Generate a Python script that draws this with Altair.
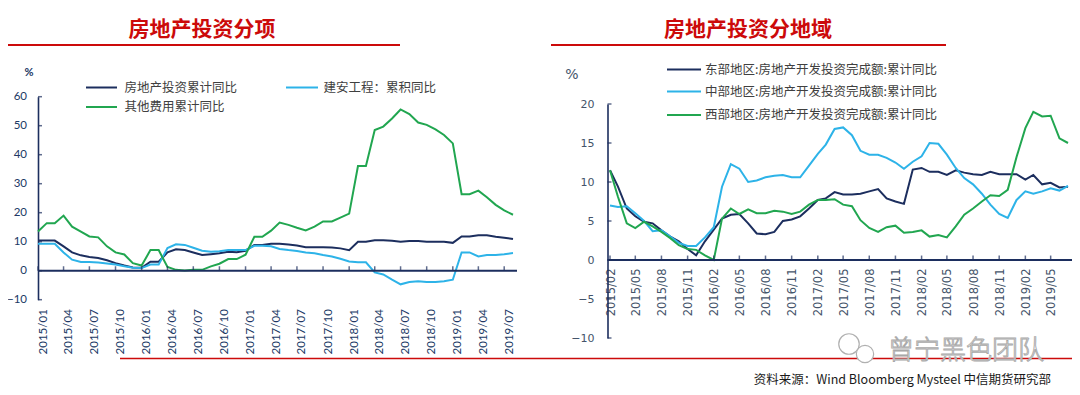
import altair as alt
import pandas as pd

# ---------------- left panel: 房地产投资分项 ----------------
left_title = "房地产投资分项"
left_names = ["房地产投资累计同比", "建安工程：累积同比", "其他费用累计同比"]
left_total = [10.4, 10.4, 10.4, 8.4, 6.3, 5.3, 4.7, 4.4, 3.6, 2.6,
              1.8, 1.1, 1.0, 3.1, 3.1, 6.3, 7.4, 7.1, 6.3, 5.4,
              5.7, 6.0, 6.5, 6.4, 6.9, 8.9, 8.9, 9.3, 9.3, 9.0,
              8.7, 8.1, 8.1, 8.1, 8.0, 7.7, 7.1, 10.0, 10.0, 10.5,
              10.5, 10.3, 10.0, 10.2, 10.2, 10.0, 10.0, 10.0, 9.6, 11.8,
              11.8, 12.2, 12.2, 11.7, 11.4, 10.9]
left_build = [9.3, 9.3, 9.3, 6.3, 3.8, 3.0, 3.0, 2.8, 2.5, 2.1,
              1.5, 1.0, 0.9, 2.1, 2.1, 7.8, 9.1, 8.9, 7.9, 6.9,
              6.5, 6.7, 7.1, 7.1, 7.1, 8.6, 8.6, 8.4, 7.5, 7.1,
              6.8, 6.3, 6.0, 5.4, 4.9, 4.1, 3.2, 2.9, 2.9, -0.6,
              -1.3, -3.1, -4.7, -3.9, -3.6, -3.9, -3.9, -3.6, -3.1, 6.3,
              6.3, 4.9, 5.4, 5.4, 5.7, 6.1]
left_other = [13.5, 16.4, 16.4, 19.0, 15.2, 13.5, 11.8, 11.5, 8.4, 6.3,
              5.6, 2.6, 1.8, 7.1, 7.1, 1.3, 0.3, 0.1, 0.3, 0.3,
              1.5, 2.4, 4.0, 4.0, 5.5, 11.7, 11.7, 13.8, 16.6, 15.8,
              14.8, 13.9, 15.2, 17.0, 17.0, 18.3, 19.7, 36.1, 36.1, 48.5,
              49.7, 52.5, 55.6, 54.0, 51.1, 50.3, 48.7, 46.8, 43.9, 26.4,
              26.4, 27.6, 25.3, 22.7, 20.8, 19.3]
left_xticks = ["2015/01", "2015/04", "2015/07", "2015/10", "2016/01", "2016/04",
               "2016/07", "2016/10", "2017/01", "2017/04", "2017/07", "2017/10",
               "2018/01", "2018/04", "2018/07", "2018/10", "2019/01", "2019/04",
               "2019/07"]
left_yticks = [60, 50, 40, 30, 20, 10, 0, -10]

# ---------------- right panel: 房地产投资分地域 ----------------
right_title = "房地产投资分地域"
right_names = ["东部地区:房地产开发投资完成额:累计同比",
               "中部地区:房地产开发投资完成额:累计同比",
               "西部地区:房地产开发投资完成额:累计同比"]
right_east = [11.5, 9.4, 6.6, 5.6, 4.9, 4.7, 3.8, 3.0, 2.4, 1.4,
              0.6, 2.4, 3.9, 5.3, 5.8, 5.9, 4.7, 3.4, 3.3, 3.6,
              5.0, 5.2, 5.6, 6.6, 7.7, 7.9, 8.7, 8.4, 8.4, 8.5,
              8.8, 9.1, 7.9, 7.5, 7.2, 11.6, 11.8, 11.3, 11.3, 10.9,
              11.5, 11.2, 11.0, 10.9, 11.3, 11.0, 11.0, 11.0, 10.3, 10.9,
              9.7, 9.9, 9.3, 9.4]
right_central = [7.0, 6.8, 6.9, 6.0, 5.0, 3.7, 3.8, 3.0, 2.2, 1.8,
                 1.8, 2.9, 4.2, 9.4, 12.3, 11.7, 10.0, 10.2, 10.6, 10.8,
                 10.9, 10.6, 10.6, 12.1, 13.6, 14.8, 16.8, 17.0, 16.0, 14.0,
                 13.5, 13.5, 13.1, 12.5, 11.7, 12.6, 13.3, 15.0, 14.9, 13.5,
                 11.8, 10.5, 9.7, 8.5, 7.1, 5.9, 5.4, 7.7, 8.8, 8.5,
                 8.8, 9.2, 8.9, 9.5]
right_west = [11.5, 8.1, 4.7, 4.1, 4.9, 4.3, 3.6, 2.8, 1.9, 1.4,
              1.3, 0.6, 0.0, 5.3, 6.6, 5.9, 6.5, 6.0, 6.0, 6.3,
              6.2, 5.9, 6.2, 7.1, 7.7, 7.7, 7.8, 7.1, 6.9, 5.1,
              4.1, 3.6, 4.2, 4.4, 3.5, 3.6, 3.8, 3.0, 3.2, 2.9,
              4.3, 5.8, 6.6, 7.5, 8.3, 8.2, 9.0, 13.2, 16.9, 19.0,
              18.4, 18.5, 15.6, 15.0]
right_xticks = ["2015/02", "2015/05", "2015/08", "2015/11", "2016/02", "2016/05",
                "2016/08", "2016/11", "2017/02", "2017/05", "2017/08", "2017/11",
                "2018/02", "2018/05", "2018/08", "2018/11", "2019/02", "2019/05"]
right_yticks = [20, 15, 10, 5, 0, -5, -10]

source_text = "资料来源：Wind Bloomberg Mysteel 中信期货研究部"
watermark_text = "曾宁黑色团队"

# ---------------- styles ----------------
NAVY = "#1c2e5e"
SKY = "#2db3e8"
GREEN = "#21a650"
RED = "#cc0a0a"
CJK = "Noto Sans CJK SC"
series_colors = [NAVY, SKY, GREEN]


def dt(label_or_ts):
    if isinstance(label_or_ts, str):
        y, m = label_or_ts.split("/")
        return alt.DateTime(year=int(y), month=int(m), date=1)
    return alt.DateTime(year=int(label_or_ts.year), month=int(label_or_ts.month), date=1)


def long_frame(start, names, series):
    dates = pd.date_range(start, periods=len(series[0]), freq="MS")
    rows = []
    for name, vals in zip(names, series):
        for d, v in zip(dates, vals):
            rows.append({"d": d, "v": v, "s": name})
    return pd.DataFrame(rows), dates


left_df, left_dates = long_frame("2015-01-01", left_names, [left_total, left_build, left_other])
right_df, right_dates = long_frame("2015-02-01", right_names, [right_east, right_central, right_west])


def panel(df, dates, names, xticks, yticks, xrange, yrange, ydomain,
          y_axis_x, x_axis_offset, x_label_pad, x_label_off, zero_end,
          lab_font, xlab_size, ylab_size, lab_color, ylab_pad):
    xsc = alt.Scale(domain=[dt(dates[0]), dt(dates[-1])], range=xrange)
    ysc = alt.Scale(domain=ydomain, range=yrange, nice=False, zero=False)
    lines = alt.Chart(df).mark_line(strokeWidth=2).encode(
        x=alt.X("d:T", scale=xsc, axis=alt.Axis(
            values=[dt(t) for t in xticks],
            labelExpr="timeFormat(datum.value, '%Y/%m')",
            orient="bottom", offset=x_axis_offset, domain=False, ticks=False,
            tickSize=0, grid=False, labelAngle=270, labelPadding=x_label_pad,
            labelOffset=x_label_off, labelFlush=False, labelOverlap=False,
            labelFont=lab_font, labelFontSize=xlab_size, labelColor=lab_color,
            title=None)),
        y=alt.Y("v:Q", scale=ysc, axis=alt.Axis(
            values=yticks, orient="left", offset=-y_axis_x, ticks=False,
            tickSize=0, grid=False, domainColor=NAVY, domainWidth=1.6,
            labelPadding=ylab_pad, labelFont=lab_font, labelFontSize=ylab_size,
            labelColor=lab_color, title=None)),
        color=alt.Color("s:N", scale=alt.Scale(domain=names, range=series_colors),
                        legend=None),
    )
    zero = alt.Chart(pd.DataFrame({"z": [0]})).mark_rule(
        color=NAVY, strokeWidth=2).encode(
        x=alt.value(y_axis_x), x2=alt.value(zero_end),
        y=alt.YDatum(0, scale=ysc))
    tick_df = pd.DataFrame({"d": [pd.Timestamp(t.replace("/", "-") + "-01") for t in xticks]})
    xt = alt.Chart(tick_df).mark_tick(
        orient="vertical", size=4.5, thickness=1.5, color=NAVY, yOffset=-2.2).encode(
        x=alt.X("d:T", scale=xsc),
        y=alt.YDatum(0, scale=ysc))
    yt = alt.Chart(pd.DataFrame({"v": yticks})).mark_tick(
        orient="horizontal", size=4, thickness=1.5, color=NAVY).encode(
        y=alt.Y("v:Q", scale=ysc),
        x=alt.value(y_axis_x + 2))
    return alt.layer(lines, zero, xt, yt)


left_panel = panel(left_df, left_dates, left_names, left_xticks, left_yticks,
                   xrange=[30, 505], yrange=[291.7, 88.7], ydomain=[-10, 60],
                   y_axis_x=30, x_axis_offset=-87.3, x_label_pad=9, x_label_off=5,
                   zero_end=509, lab_font="Lato", xlab_size=11.5, ylab_size=11.5,
                   lab_color="#203864", ylab_pad=11.5)
right_panel = panel(right_df, right_dates, right_names, right_xticks, right_yticks,
                    xrange=[602, 1060], yrange=[330, 96], ydomain=[-10, 20],
                    y_axis_x=599.5, x_axis_offset=-127, x_label_pad=8, x_label_off=1,
                    zero_end=1064, lab_font="DejaVu Sans", xlab_size=11.5, ylab_size=11,
                    lab_color="#44546a", ylab_pad=13.5)


def text_mark(s, x, y, **kw):
    return alt.Chart(pd.DataFrame({"t": [s]})).mark_text(**kw).encode(
        x=alt.value(x), y=alt.value(y), text="t:N")


def rule_mark(x1, x2, y, color, width):
    return alt.Chart(pd.DataFrame({"r": [0]})).mark_rule(
        color=color, strokeWidth=width).encode(
        x=alt.value(x1), x2=alt.value(x2), y=alt.value(y))


def circle_mark(x, y, size):
    return alt.Chart(pd.DataFrame({"c": [0]})).mark_point(
        shape="circle", filled=True, fill="white", stroke="#b0b0b0",
        strokeWidth=1.2, opacity=1, size=size).encode(
        x=alt.value(x), y=alt.value(y))


decor = [
    text_mark(left_title, 194, 21.5, font=CJK, fontSize=21, fontWeight="bold",
              color=RED, align="center", baseline="middle"),
    rule_mark(0, 392, 37, RED, 2),
    text_mark(right_title, 740, 21.5, font=CJK, fontSize=21, fontWeight="bold",
              color=RED, align="center", baseline="middle"),
    rule_mark(543, 938, 37, RED, 2),
    text_mark("%", 21, 65, font="Lato", fontSize=11, fontWeight="bold",
              color="#203864", align="center", baseline="middle"),
    text_mark("%", 564, 67, font="DejaVu Sans", fontSize=14,
              color="#44546a", align="center", baseline="middle"),
    rule_mark(112, 1064, 350.5, RED, 1.6),
    circle_mark(841, 336, 420),
    circle_mark(857, 346, 300),
    text_mark(source_text, 1043, 372, font=CJK, fontSize=12.5, color="#1a1a1a",
              align="right", baseline="middle"),
    text_mark(watermark_text, 958, 343, font=CJK, fontSize=26, fontWeight=300,
              fill="white", stroke="#a8a8a8", strokeWidth=0.9,
              align="center", baseline="middle"),
]

# manual legends
left_leg_pos = [(78, 109, 116.5, 79.5), (278, 310, 315.5, 79.5), (78, 109, 116.5, 99)]
for name, col, (sx1, sx2, tx, ty) in zip(left_names, series_colors, left_leg_pos):
    decor.append(rule_mark(sx1, sx2, ty, col, 2))
    decor.append(text_mark(name, tx, ty, font=CJK, fontSize=12.5, color="#404040",
                           align="left", baseline="middle"))
right_leg_y = [61.5, 83.5, 107]
for name, col, ty in zip(right_names, series_colors, right_leg_y):
    decor.append(rule_mark(659, 693, ty, col, 2))
    decor.append(text_mark(name, 697, ty, font=CJK, fontSize=12.5, color="#404040",
                           align="left", baseline="middle"))

chart = alt.layer(left_panel, right_panel, *decor).resolve_scale(
    x="independent", y="independent", color="independent"
).properties(
    width=1064, height=379, padding=0,
    autosize=alt.AutoSizeParams(type="none"),
    background="white",
).configure_view(stroke=None)

chart.save("out.html", embed_options={"renderer": "svg", "actions": False})
